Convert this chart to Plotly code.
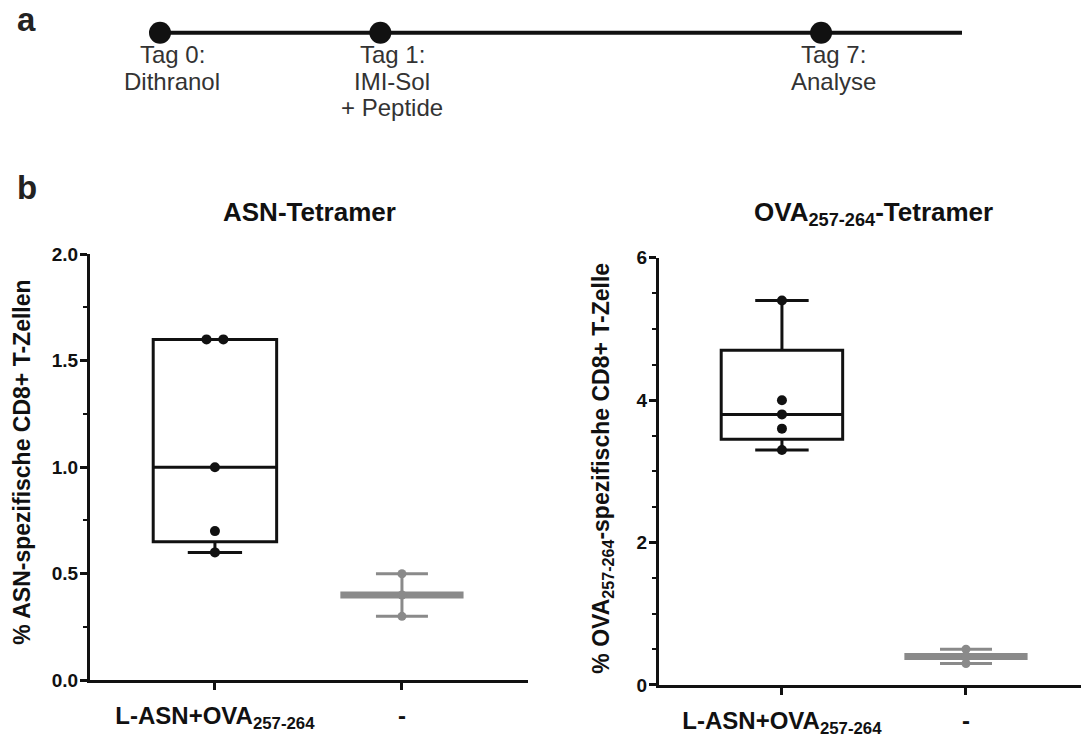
import numpy as np
import plotly.graph_objects as go

# ---------------- data ----------------
timeline_days = [0, 1, 7]
timeline_labels = [["Tag 0:", "Dithranol"],
                   ["Tag 1:", "IMI-Sol", "+ Peptide"],
                   ["Tag 7:", "Analyse"]]

categories = ["L-ASN+OVA<sub>257-264</sub>", "-"]

asn_treated = [1.6, 1.6, 1.0, 0.7, 0.6]
asn_control = [0.3, 0.4, 0.5]

ova_treated = [5.4, 4.0, 3.8, 3.6, 3.3]
ova_control = [0.3, 0.4, 0.5]

asn_yticks = [0.0, 0.5, 1.0, 1.5, 2.0]
ova_yticks = [0, 2, 4, 6]

# ---------------- layout helpers ----------------
W, H = 1081, 738
FONT = "Liberation Sans, Arial, sans-serif"
GREY = "#8a8a8a"
BLACK = "#111111"


def px_x(p):
    return p / W


def px_y(p):
    q = (p - 10) / 0.965
    return 1 - q / H


def dup_offsets(vals, step=0.09):
    vals = list(vals)
    offs = []
    seen = {}
    for v in vals:
        k = vals.count(v)
        i = seen.get(v, 0)
        seen[v] = i + 1
        offs.append((i - (k - 1) / 2) * step)
    return offs


fig = go.Figure()


def add_panel(xa, ya, treated, control):
    # box of treated group
    fig.add_trace(go.Box(
        x=[0] * len(treated), y=treated, width=0.66, whiskerwidth=0.44,
        quartilemethod="exclusive", boxpoints=False,
        line=dict(color=BLACK, width=3), fillcolor="white",
        xaxis=xa, yaxis=ya, showlegend=False, hoverinfo="skip"))
    offs = dup_offsets(treated)
    fig.add_trace(go.Scatter(
        x=[0 + o for o in offs], y=treated, mode="markers",
        marker=dict(color=BLACK, size=10),
        xaxis=xa, yaxis=ya, showlegend=False, cliponaxis=False))
    # control group: mean +- SD
    m = float(np.mean(control))
    sd = float(np.std(control, ddof=1))
    fig.add_trace(go.Scatter(
        x=[1], y=[m], mode="markers",
        marker=dict(symbol="line-ew", size=88, color=GREY,
                    line=dict(color=GREY, width=7)),
        error_y=dict(type="data", array=[sd], visible=True,
                     color=GREY, thickness=3, width=26),
        xaxis=xa, yaxis=ya, showlegend=False, cliponaxis=False))
    fig.add_trace(go.Scatter(
        x=[1] * len(control), y=control, mode="markers",
        marker=dict(color=GREY, size=9),
        xaxis=xa, yaxis=ya, showlegend=False, cliponaxis=False))


add_panel("x", "y", asn_treated, asn_control)
add_panel("x2", "y2", ova_treated, ova_control)

# timeline (schematic, log-spaced by day+1)
fig.add_trace(go.Scatter(
    x=[d + 1 for d in timeline_days], y=[0] * len(timeline_days),
    mode="markers", marker=dict(color=BLACK, size=22),
    xaxis="x3", yaxis="y3", showlegend=False, cliponaxis=False))

common_x = dict(showline=True, linewidth=3, linecolor=BLACK, ticks="outside",
                ticklen=7, tickwidth=3, tickcolor=BLACK, showgrid=False,
                zeroline=False, tickvals=[0, 1], ticktext=categories,
                ticklabelstandoff=5,
                tickfont=dict(family=FONT, size=24, color=BLACK, weight="bold"),
                fixedrange=True)
common_y = dict(showline=True, linewidth=3, linecolor=BLACK, ticks="outside",
                ticklen=7, tickwidth=3, tickcolor=BLACK, showgrid=False,
                zeroline=False, ticklabelstandoff=-2,
                tickfont=dict(family=FONT, size=19, color=BLACK, weight="bold"),
                fixedrange=True)

annotations = []


def ann(text, x, y, size, color=BLACK, bold=True, angle=0, xref="paper", xshift=0):
    annotations.append(dict(
        text=text, x=x, y=y, xref=xref, yref="paper", xanchor="center",
        yanchor="middle", showarrow=False, textangle=angle, xshift=xshift,
        font=dict(family=FONT, size=size, color=color,
                  weight="bold" if bold else "normal")))


# panel letters
ann("a", px_x(26), px_y(20), 33, color="#222222")
ann("b", px_x(27), px_y(190), 33, color="#222222")

# titles
ann("ASN-Tetramer", px_x(309), px_y(214), 26)
ann("OVA<sub>257-264</sub>-Tetramer", px_x(874), px_y(216), 26)

# y-axis titles
ann("% ASN-spezifische CD8+ T-Zellen", px_x(22), px_y(468), 23, angle=-90)
ann("% OVA<sub>257-264</sub>-spezifische CD8+ T-Zelle", px_x(603), px_y(474), 23, angle=-90)

# timeline labels
for d, lines in zip(timeline_days, timeline_labels):
    for i, ln in enumerate(lines):
        ann(ln, np.log10(d + 1), px_y(55 + 27 * i), 24, color="#333333",
            bold=False, xref="x3", xshift=12)

fig.update_layout(
    width=W, height=H, margin=dict(l=0, r=0, t=0, b=0),
    paper_bgcolor="white", plot_bgcolor="white",
    font=dict(family=FONT, color=BLACK),
    xaxis=dict(domain=[px_x(90), px_x(528)], range=[-0.668, 1.674], anchor="y", **common_x),
    yaxis=dict(domain=[px_y(688), px_y(257)], range=[0, 2], anchor="x",
               tickvals=asn_yticks, tickformat=".1f",
               minor=dict(dtick=0.25, ticks="outside", ticklen=4, tickwidth=2, tickcolor=BLACK),
               **common_y),
    xaxis2=dict(domain=[px_x(659), 1.0], range=[-0.668, 1.625], anchor="y2", **common_x),
    yaxis2=dict(domain=[px_y(692.7), px_y(260.7)], range=[0, 6], anchor="x2",
                tickvals=ova_yticks,
                minor=dict(dtick=0.5, ticks="outside", ticklen=4, tickwidth=2, tickcolor=BLACK),
                **common_y),
    xaxis3=dict(domain=[px_x(160), px_x(962)], type="log", range=[0, 1.0956],
                visible=False, anchor="y3", fixedrange=True),
    yaxis3=dict(domain=[px_y(43), px_y(23)], range=[-1, 1], visible=False,
                anchor="x3", fixedrange=True),
    shapes=[dict(type="line", xref="x3 domain", yref="y3", x0=0, x1=1, y0=0, y1=0,
                 line=dict(color=BLACK, width=4), layer="below")],
    annotations=annotations,
)

post = (
    "document.documentElement.style.margin='0';"
    "document.documentElement.style.overflow='hidden';"
    "document.body.style.margin='0';"
    "document.body.style.padding='0';"
    "document.body.style.overflow='hidden';"
    "var d=document.getElementById('{plot_id}');"
    "d.style.position='fixed';d.style.top='0px';d.style.left='0px';"
)

fig.write_html("out.html", config={"displayModeBar": False}, post_script=post)
